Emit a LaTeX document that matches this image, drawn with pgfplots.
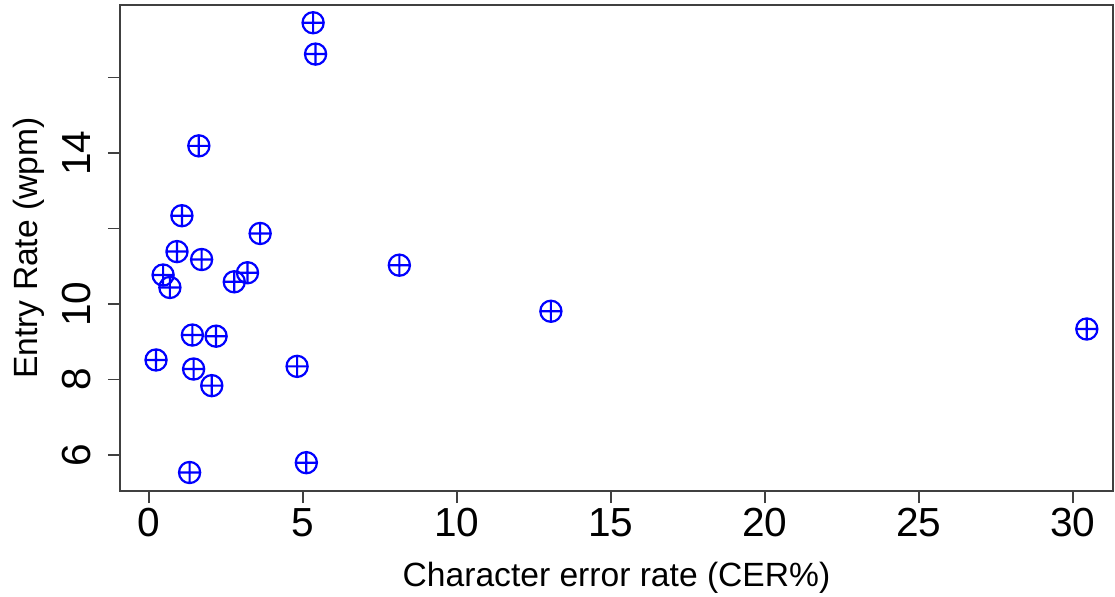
\documentclass[border=0pt]{standalone}
\usepackage{pgfplots}
\pgfplotsset{compat=1.18}
\usepackage{fontspec}
\setmainfont{Liberation Sans}
\begin{document}
\begin{tikzpicture}
\useasboundingbox (-60pt,-52.5pt) rectangle (497.5pt,245.5pt);
\begin{axis}[
  scale only axis, width=496.5pt, height=243pt,
  at={(0pt,0pt)}, anchor=south west,
  xmin=-0.94, xmax=31.3, ymin=5.05, ymax=17.92,
  xtick={0,5,10,15,20,25,30},
  ytick={6,8,10,12,14,16}, yticklabels={6,8,10,,14,},
  tick align=outside, xtick pos=bottom, ytick pos=left,
  major tick length=6pt,
  axis line style={black!75, line width=0.8pt},
  every tick/.style={black!75, line width=0.8pt},
  /pgf/number format/assume math mode=true,
  tick label style={font=\fontsize{20.3}{21}\selectfont},
  xticklabel style={anchor=base, yshift=-16.5pt},
  yticklabel style={rotate=90, anchor=base, yshift=8.5pt},
  label style={font=\fontsize{16.8}{18}\selectfont},
  xlabel={Character error rate (CER\%)},
  ylabel={Entry Rate (wpm)},
  xlabel style={at={(axis description cs:0.5,0)}, anchor=base, yshift=-47.5pt},
  ylabel style={at={(axis description cs:0,0.5)}, anchor=base, rotate=0, yshift=41pt},
]
\addplot[only marks, mark=oplus, mark size=5.3pt, blue, line width=1.1pt] coordinates {
(5.33,17.45) (5.41,16.62) (1.62,14.19) (1.07,12.34) (0.91,11.39) (1.71,11.18)
(0.46,10.77) (0.68,10.44) (2.77,10.59) (3.20,10.83) (3.61,11.87) (8.13,11.03)
(1.41,9.18) (2.18,9.15) (0.23,8.52) (1.45,8.28) (2.04,7.84) (13.05,9.81)
(30.45,9.34) (4.81,8.35) (1.32,5.54) (5.11,5.80)
};
\end{axis}
\end{tikzpicture}
\end{document}
